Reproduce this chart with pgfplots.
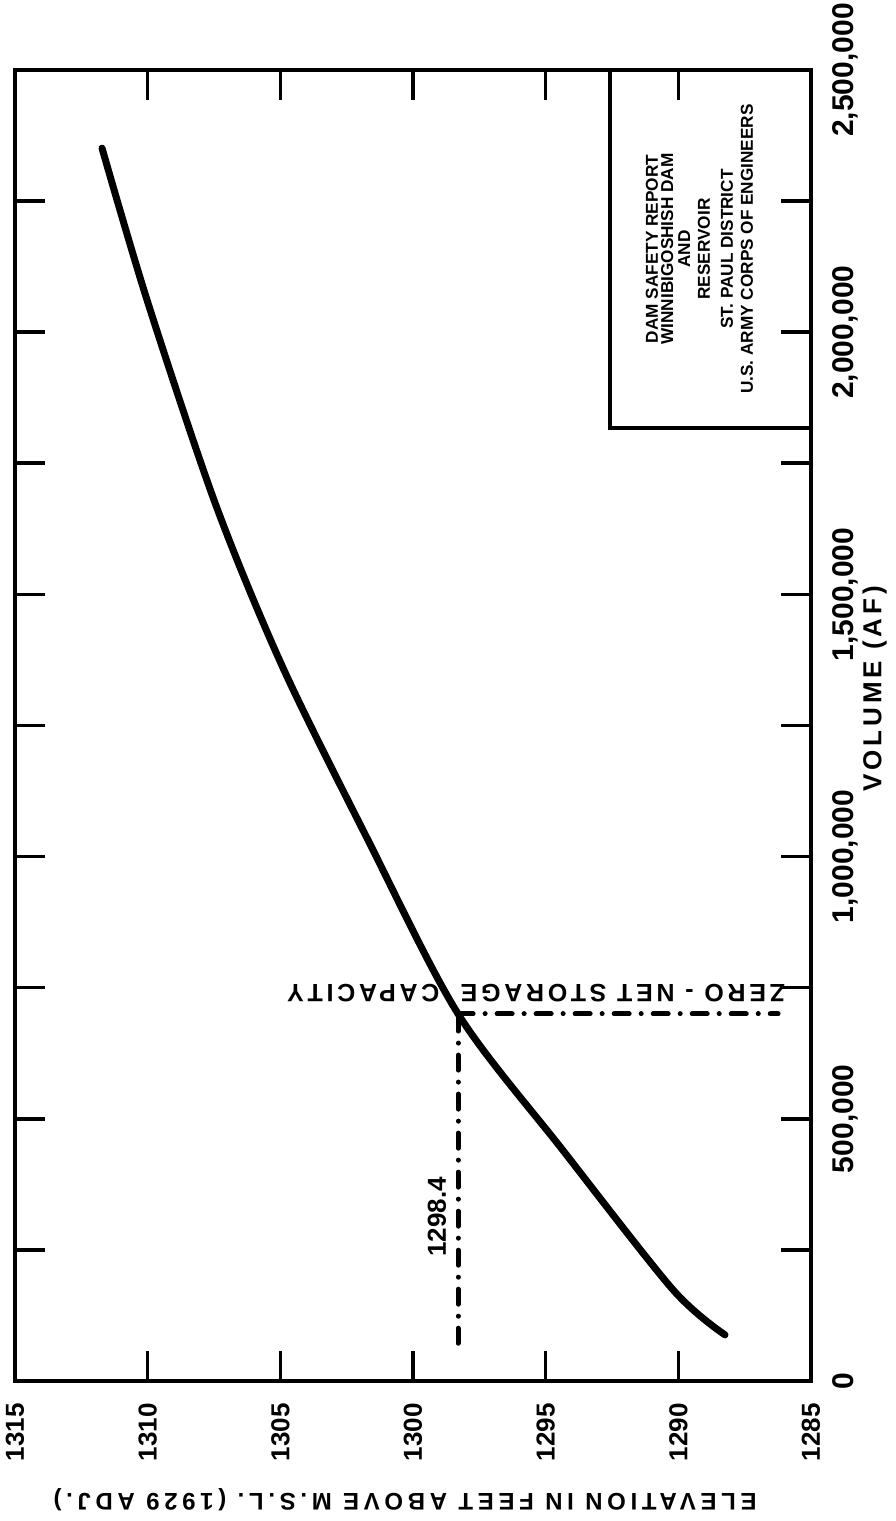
\documentclass[border=0pt]{standalone}
\usepackage{fontspec}
\setmainfont{Liberation Sans}
\newfontfamily\spaced{Liberation Sans}[LetterSpace=15]
\usepackage{pgfplots}
\pgfplotsset{compat=1.18}

\begin{document}
\begin{tikzpicture}
\begin{axis}[
  name=ax,
  scale only axis, width=398pt, height=655.5pt,
  xmin=1285, xmax=1315, x dir=reverse,
  ymin=0, ymax=2500000,
  xtick={1285,1290,1295,1300,1305,1310,1315},
  xticklabels={1285,1290,1295,1300,1305,1310,1315},
  ytick={0,500000,1000000,1500000,2000000,2500000},
  yticklabels={0,{500,000},{1,000,000},{1,500,000},{2,000,000},{2,500,000}},
  minor ytick={250000,750000,1250000,1750000,2250000},
  scaled y ticks=false, scaled x ticks=false,
  xtick pos=both, ytick pos=both,
  xticklabel pos=left, yticklabel pos=right,
  tick align=inside,
  major tick length=15pt, minor tick length=15pt,
  tick style={line width=1.8pt, black},
  axis line style={line width=2.2pt},
  xticklabel style={font=\fontsize{13}{13}\selectfont\bfseries, rotate=90, anchor=east, inner sep=0pt},
  xticklabel shift=11pt,
  yticklabel style={font=\fontsize{15}{15}\selectfont\bfseries, rotate=90, anchor=north, inner sep=0pt},
  yticklabel shift=10.5pt,
  clip=false,
]
% elevation-capacity curve
\addplot[black, line width=3.5pt, line cap=round, line join=round, smooth, tension=0.5] coordinates {
  (1288.24,88000) (1290.20,174000) (1294.35,440000) (1298.30,700000)
  (1301.70,1032000) (1304.90,1360000) (1307.42,1669000) (1309.99,2056000)
  (1311.72,2351000)
};
% zero-net storage lines
\addplot[black, line width=2.5pt, line cap=round, dash pattern=on 7.5pt off 6pt on 0.01pt off 6pt] coordinates {(1298.3,72000) (1298.3,700000)};
\addplot[black, line width=2.5pt, line cap=round, dash pattern=on 7.5pt off 6pt on 0.01pt off 6pt] coordinates {(1298.3,700000) (1286.24,700000)};

% title block
\draw[line width=2pt] (axis cs:1292.58,2500000) -- (axis cs:1292.58,1817000) -- (axis cs:1285,1817000);
\node[rotate=90, font=\fontsize{8.6}{8.6}\selectfont\bfseries] at (axis cs:1290.99,2158700) {DAM SAFETY REPORT};
\node[rotate=90, font=\fontsize{8.6}{8.6}\selectfont\bfseries] at (axis cs:1290.42,2158700) {WINNIBIGOSHISH DAM};
\node[rotate=90, font=\fontsize{8.6}{8.6}\selectfont\bfseries] at (axis cs:1289.78,2158700) {AND};
\node[rotate=90, font=\fontsize{8.6}{8.6}\selectfont\bfseries] at (axis cs:1289.03,2158700) {RESERVOIR};
\node[rotate=90, font=\fontsize{8.6}{8.6}\selectfont\bfseries] at (axis cs:1288.17,2158700) {ST. PAUL DISTRICT};
\node[rotate=90, font=\fontsize{8.6}{8.6}\selectfont\bfseries] at (axis cs:1287.41,2158700) {U.S. ARMY CORPS OF ENGINEERS};

% annotations
\node[rotate=180, font=\spaced\fontsize{12.5}{12.5}\selectfont\bfseries] at (axis cs:1295.36,740000) {ZERO - NET STORAGE\ \ CAPACITY};
\node[rotate=90, font=\fontsize{13}{13}\selectfont\bfseries] at (axis cs:1299.1,312700) {1298.4};

% axis titles
\node[rotate=180, font=\spaced\addfontfeature{LetterSpace=19.5}\fontsize{12}{12}\selectfont\bfseries] at (axis cs:1300.3,-227000) {ELEVATION IN FEET ABOVE M.S.L. (1929 ADJ.)};
\node[rotate=90, font=\spaced\fontsize{13}{13}\selectfont\bfseries] at (axis cs:1282.6,1320000) {VOLUME (AF)};
\end{axis}
\pgfresetboundingbox
\path[use as bounding box] ([xshift=-7.5pt,yshift=-70pt]ax.south west) rectangle ([xshift=42.5pt,yshift=35pt]ax.north east);
\end{tikzpicture}
\end{document}
